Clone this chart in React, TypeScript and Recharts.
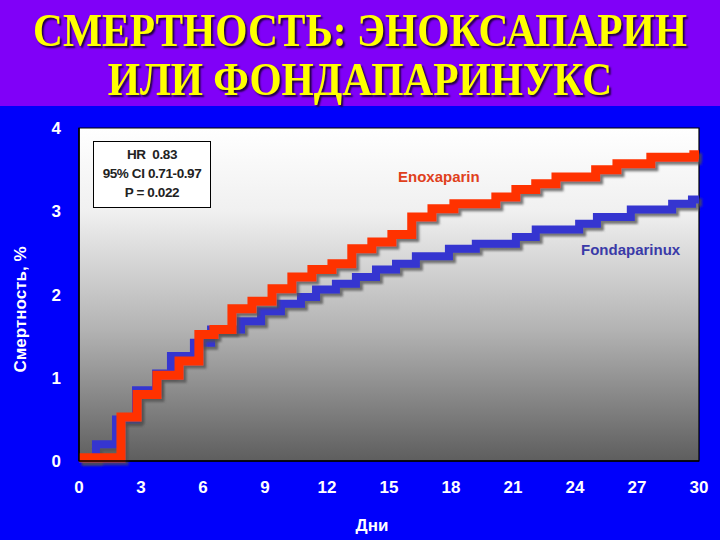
import React from 'react';
import { LineChart, Line, XAxis, YAxis, CartesianGrid, ReferenceArea } from 'recharts';

// days / cumulative mortality (%)
const fondaDays = [0, 0.82, 1.79, 2.76, 3.73, 4.45, 5.56, 6.39, 7.84, 8.81, 9.77, 10.74, 11.47, 12.43, 13.4, 14.37, 15.34, 16.3, 17.9, 19.2, 21.14, 22.1, 24.2, 25.06, 26.7, 28.7, 29.66, 30];
const fondaValues = [0.03, 0.2, 0.5, 0.85, 1.05, 1.26, 1.42, 1.58, 1.68, 1.8, 1.89, 1.97, 2.06, 2.13, 2.21, 2.3, 2.37, 2.46, 2.55, 2.61, 2.69, 2.78, 2.85, 2.93, 3.02, 3.09, 3.14, 3.14];

const enoxDays = [0, 2.03, 2.81, 3.77, 4.84, 5.8, 6.53, 7.4, 8.37, 9.34, 10.3, 11.27, 12.24, 13.2, 14.17, 15.14, 16.1, 17.08, 18.14, 20.17, 21.14, 22.1, 23.08, 25.0, 26.03, 27.67, 29.75, 30];
const enoxValues = [0.04, 0.53, 0.8, 1.03, 1.2, 1.52, 1.58, 1.83, 1.92, 2.07, 2.21, 2.3, 2.37, 2.55, 2.63, 2.72, 2.93, 3.03, 3.09, 3.17, 3.26, 3.33, 3.41, 3.5, 3.57, 3.65, 3.68, 3.68];

const xTicks = [0, 3, 6, 9, 12, 15, 18, 21, 24, 27, 30];
const yTicks = [0, 1, 2, 3, 4];

const titleLines = ['СМЕРТНОСТЬ: ЭНОКСАПАРИН', 'ИЛИ ФОНДАПАРИНУКС'];
const statsLines = ['HR  0.83', '95% CI 0.71-0.97', 'P = 0.022'];

const fondaData = fondaDays.map((d, i) => ({ day: d, value: fondaValues[i] }));
const enoxData = enoxDays.map((d, i) => ({ day: d, value: enoxValues[i] }));

const sans = 'Liberation Sans, Arial, sans-serif';
const tickStyle = { fill: '#ffffff', fontSize: 17, fontWeight: 700, fontFamily: sans };

const YTitle = (props: any) => {
  const vb = props.viewBox || {};
  const cx = 20;
  const cy = vb.y + vb.height / 2 + 15;
  return (
    <text x={cx} y={cy} transform={`rotate(-90 ${cx} ${cy})`} textAnchor="middle" dominantBaseline="central"
      fill="#ffffff" fontSize={17} fontWeight={700} fontFamily={sans}>
      Смертность, %
    </text>
  );
};

const XTitle = (props: any) => {
  const vb = props.viewBox || {};
  const cx = vb.x + vb.width / 2 - 17;
  return (
    <text x={cx} y={531} textAnchor="middle" fill="#ffffff" fontSize={17} fontWeight={700} fontFamily={sans}>
      Дни
    </text>
  );
};

export default function App() {
  return (
    <div style={{ position: 'absolute', left: 0, top: 0, width: 720, height: 540, background: '#0000fb', overflow: 'hidden' }}>
      {/* title band */}
      <div style={{ position: 'absolute', left: 0, top: 0, width: 720, height: 106, background: '#8000f8' }} />
      <div style={{
        position: 'absolute', left: -140, top: 6, width: 1000, whiteSpace: 'nowrap',
        color: '#ffff00', fontFamily: 'Liberation Serif, Times New Roman, serif', fontWeight: 700,
        fontSize: 46, lineHeight: '49px', textAlign: 'center', textShadow: '2px 2px 2px #200040',
        transform: 'scaleX(0.9)',
      }}>
        {titleLines.map((t) => (
          <div key={t}>{t}</div>
        ))}
      </div>

      <LineChart width={720} height={540} margin={{ top: 128, right: 21, bottom: 39, left: 0 }}
        style={{ position: 'absolute', left: 0, top: 0 }}>
        <defs>
          <linearGradient id="plotBg" x1="0" y1="0" x2="0" y2="1">
            <stop offset="0%" stopColor="#ffffff" />
            <stop offset="25%" stopColor="#f0f0f0" />
            <stop offset="60%" stopColor="#b4b4b4" />
            <stop offset="100%" stopColor="#5e5e5e" />
          </linearGradient>
          <filter id="dropShadow" x="-10%" y="-10%" width="120%" height="120%">
            <feDropShadow dx="3" dy="3" stdDeviation="1" floodColor="#505050" floodOpacity="0.75" />
          </filter>
        </defs>
        <CartesianGrid horizontal={false} vertical={false} fill="url(#plotBg)" />
        <XAxis type="number" dataKey="day" domain={[0, 30]} ticks={xTicks} interval={0}
          tickLine={false} tickSize={0} tickMargin={20} height={40}
          axisLine={{ stroke: '#000000', strokeWidth: 1.5 }} tick={tickStyle} allowDuplicatedCategory={false}
          label={<XTitle />} />
        <YAxis type="number" dataKey="value" domain={[0, 4]} ticks={yTicks} interval={0}
          tickLine={false} tickSize={0} tickMargin={18} width={79}
          axisLine={{ stroke: '#000000', strokeWidth: 1.5 }} tick={tickStyle}
          label={<YTitle />} />
        <ReferenceArea x1={0} x2={30} y1={0} y2={4} fill="none" stroke="#000000" strokeWidth={1.2} ifOverflow="visible" />
        <Line data={fondaData} dataKey="value" type="stepAfter" stroke="#3434d0" strokeWidth={8}
          dot={false} isAnimationActive={false} strokeLinejoin="miter" strokeLinecap="butt"
          style={{ filter: 'url(#dropShadow)' }} />
        <Line data={enoxData} dataKey="value" type="stepAfter" stroke="#ff3300" strokeWidth={9}
          dot={false} isAnimationActive={false} strokeLinejoin="miter" strokeLinecap="butt"
          style={{ filter: 'url(#dropShadow)' }} />
      </LineChart>

      {/* stats box */}
      <div style={{
        position: 'absolute', left: 93, top: 141, width: 116, height: 62, background: '#ffffff',
        border: '1px solid #000000', textAlign: 'center', fontFamily: sans,
        fontWeight: 700, fontSize: 13.5, lineHeight: '19px', color: '#222222', paddingTop: 3,
        boxSizing: 'content-box', letterSpacing: -0.4,
      }}>
        {statsLines.map((s) => (
          <div key={s} style={{ whiteSpace: 'pre' }}>{s}</div>
        ))}
      </div>

      <div style={{
        position: 'absolute', left: 398, top: 168, color: '#e0401c', fontFamily: sans,
        fontWeight: 700, fontSize: 15,
      }}>Enoxaparin</div>
      <div style={{
        position: 'absolute', left: 581, top: 241, color: '#3a3aa8', fontFamily: sans,
        fontWeight: 700, fontSize: 15,
      }}>Fondaparinux</div>
    </div>
  );
}
